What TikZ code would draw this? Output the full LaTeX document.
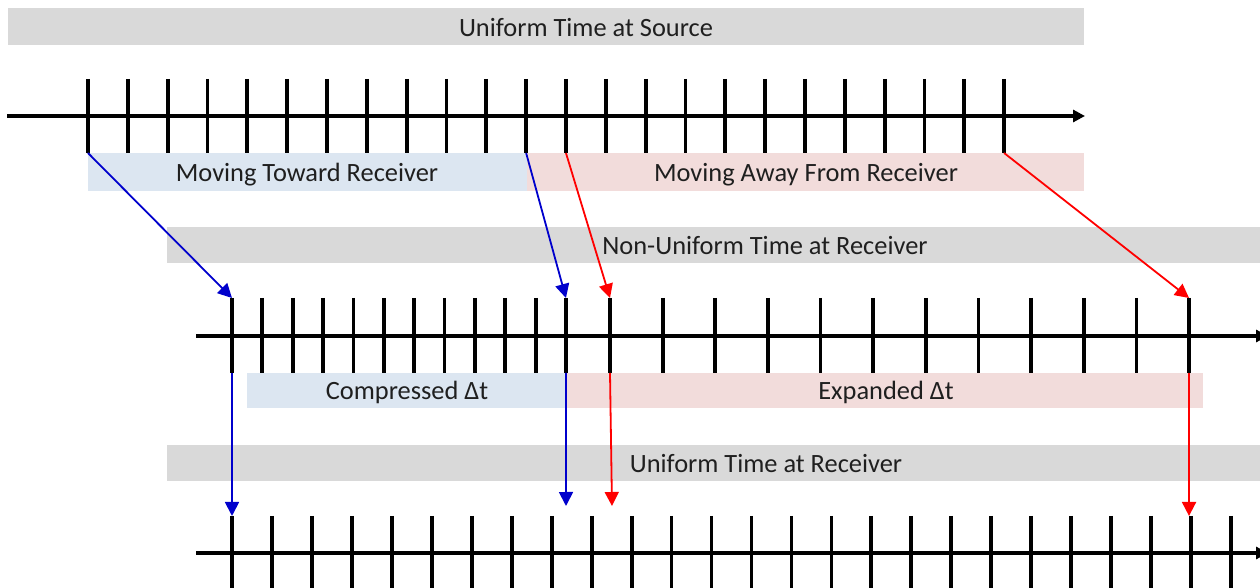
\documentclass[tikz,border=0pt]{standalone}
\usepackage{fontspec}
\setmainfont{Carlito}
\usepackage{xcolor}
\usetikzlibrary{arrows.meta}

\definecolor{bandgray}{HTML}{D9D9D9}
\definecolor{bandblue}{HTML}{DCE6F1}
\definecolor{bandpink}{HTML}{F2DCDB}
\definecolor{shiftblue}{HTML}{0000CC}
\definecolor{shiftred}{HTML}{FF0000}

\begin{document}
\begin{tikzpicture}[
  x=0.5pt, y=-0.5pt,
  >={Triangle[length=7pt, width=7pt]},
  timeline/.style={line width=1.9pt, -{Triangle[length=6pt, width=6pt]}},
  tickline/.style={line width=1.9pt},
  bandtext/.style={anchor=base, inner sep=0pt, text=black!88, font=\fontsize{13.2}{16}\selectfont},
  blueshift/.style={->, shiftblue, line width=0.9pt},
  redshift/.style={->, shiftred, line width=0.9pt},
]
\useasboundingbox (0,0) rectangle (1260,588);
\clip (0,0) rectangle (1260,588);

% --- Bands ---
\fill[bandgray] (8,8) rectangle (1084,45);
\fill[bandblue] (88,153) rectangle (527,191);
\fill[bandpink] (527,153) rectangle (1084,191);
\fill[bandgray] (167,227) rectangle (1260,263);
\fill[bandblue] (247,373) rectangle (566,408);
\fill[bandpink] (566,373) rectangle (1203,408);
\fill[bandgray] (167,445) rectangle (1260,481);

% --- Source time line ---
\draw[timeline] (7,116) -- (1085,116);
\foreach \i in {0,...,23} {
  \pgfmathsetmacro\xx{88+39.83*\i}
  \draw[tickline] (\xx,79) coordinate (srcT\i) -- (\xx,153) coordinate (srcB\i);
}

% --- Receiver time line, non-uniform ---
\draw[timeline] (196,336) -- (1268,336);
\foreach \i in {0,...,11} {
  \pgfmathsetmacro\xx{232+30.36*\i}
  \draw[tickline] (\xx,298) coordinate (cmpT\i) -- (\xx,373) coordinate (cmpB\i);
}
\foreach \i in {0,...,11} {
  \pgfmathsetmacro\xx{610+52.64*\i}
  \draw[tickline] (\xx,298) coordinate (expT\i) -- (\xx,373) coordinate (expB\i);
}

% --- Receiver time line, uniform ---
\draw[timeline] (196,553) -- (1268,553);
\foreach \i in {0,...,25} {
  \pgfmathsetmacro\xx{232+39.96*\i}
  \draw[tickline] (\xx,516) coordinate (rcvT\i) -- (\xx,600) coordinate (rcvB\i);
}

% --- Shift arrows ---
\coordinate (bEnd) at (566,506);
\coordinate (rEnd) at (612,506);
\draw[blueshift] (srcB0) -- (cmpT0);
\draw[blueshift] (srcB11) -- (cmpT11);
\draw[redshift] (srcB12) -- (expT0);
\draw[redshift] (srcB23) -- (expT11);
\draw[blueshift] (cmpB0) -- (cmpB0 |- rcvT0);
\draw[blueshift] (cmpB11) -- (bEnd);
\draw[redshift] (expB0) -- (rEnd);
\draw[redshift] (expB11) -- (expB11 |- rcvT24);

% --- Labels ---
\node[bandtext] (srcText) at (586,37) {Uniform Time at Source};
\node[bandtext] (towardText) at (307,182) {Moving Toward Receiver};
\node[bandtext] (awayText) at (806,182) {Moving Away From Receiver};
\node[bandtext] (nonuText) at (765,255) {Non-Uniform Time at Receiver};
\node[bandtext] (cmpText) at (407,400) {Compressed Δt};
\node[bandtext] (expText) at (886,400) {Expanded Δt};
\node[bandtext] (rcvText) at (766,473) {Uniform Time at Receiver};

\end{tikzpicture}
\end{document}
